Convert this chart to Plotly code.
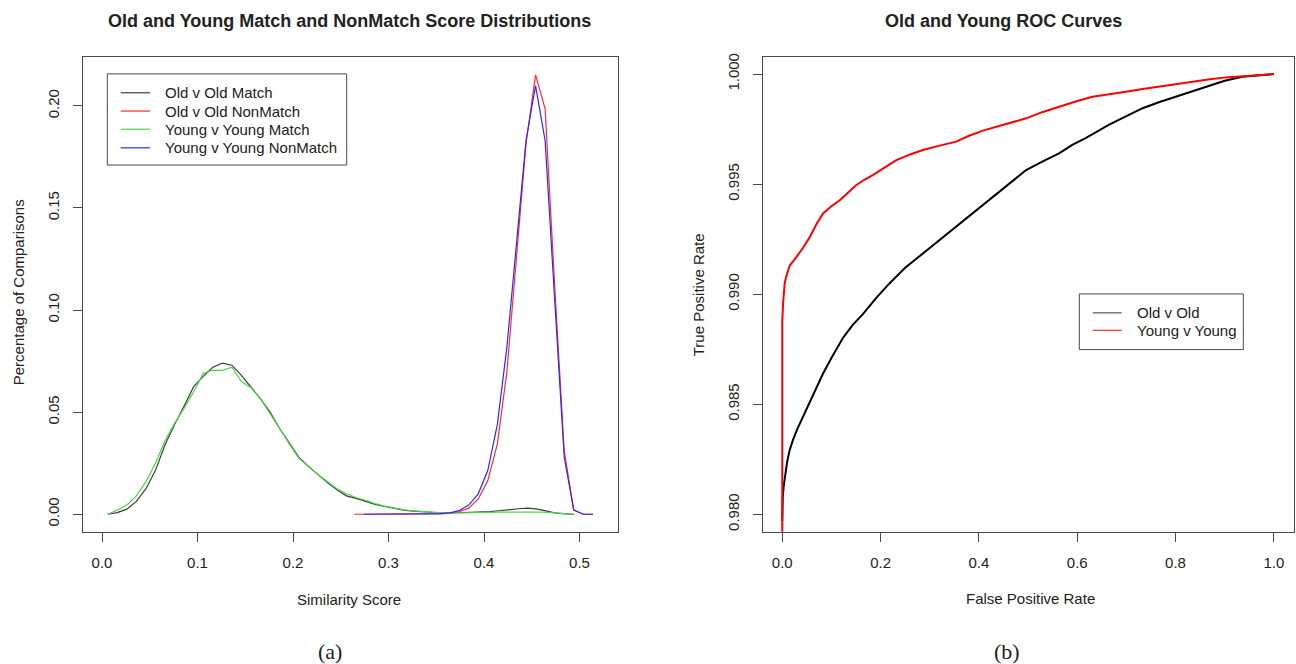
import plotly.graph_objects as go

# ---------------- data: score distributions (panel a) ----------------
match_x = [0.006, 0.016, 0.026, 0.036, 0.046, 0.056, 0.066, 0.076, 0.086, 0.096,
           0.106, 0.116, 0.126, 0.136, 0.146, 0.156, 0.166, 0.176, 0.186, 0.196,
           0.206, 0.216, 0.226, 0.236, 0.246, 0.256, 0.266, 0.276, 0.286, 0.296,
           0.306, 0.316, 0.326, 0.336, 0.346, 0.356, 0.366, 0.376, 0.386, 0.396,
           0.406, 0.416, 0.426, 0.436, 0.446, 0.456, 0.466, 0.476, 0.486, 0.494]
old_match = [0.0000, 0.0008, 0.0025, 0.0063, 0.0125, 0.0215, 0.0340, 0.0440, 0.0530, 0.0625,
             0.0675, 0.0720, 0.0740, 0.0730, 0.0680, 0.0625, 0.0565, 0.0500, 0.0420, 0.0350,
             0.0280, 0.0235, 0.0195, 0.0155, 0.0120, 0.0090, 0.0078, 0.0062, 0.0048, 0.0038,
             0.0028, 0.0020, 0.0015, 0.0011, 0.0008, 0.0006, 0.0006, 0.0007, 0.0008, 0.0010,
             0.0013, 0.0017, 0.0023, 0.0027, 0.0030, 0.0025, 0.0015, 0.0005, 0.0002, 0.0000]
young_match = [0.0000, 0.0020, 0.0045, 0.0090, 0.0160, 0.0250, 0.0360, 0.0445, 0.0520, 0.0600,
               0.0690, 0.0705, 0.0705, 0.0720, 0.0650, 0.0620, 0.0565, 0.0495, 0.0420, 0.0345,
               0.0275, 0.0235, 0.0195, 0.0160, 0.0125, 0.0100, 0.0082, 0.0068, 0.0052, 0.0040,
               0.0030, 0.0022, 0.0016, 0.0012, 0.0009, 0.0007, 0.0006, 0.0006, 0.0007, 0.0008,
               0.0009, 0.0010, 0.0011, 0.0012, 0.0012, 0.0011, 0.0009, 0.0006, 0.0003, 0.0000]

nonmatch_x = [0.264, 0.274, 0.284, 0.294, 0.304, 0.314, 0.324, 0.334, 0.344, 0.354,
              0.364, 0.374, 0.384, 0.394, 0.404, 0.414, 0.424, 0.434, 0.444, 0.454,
              0.464, 0.474, 0.484, 0.494, 0.504, 0.514]
old_nonmatch = [0.0, 0.0, 0.0, 0.0, 0.0, 0.0, 0.0, 0.0, 0.0001, 0.0002,
                0.0005, 0.0012, 0.0030, 0.0075, 0.0165, 0.0345, 0.0700, 0.1250, 0.1815, 0.2152,
                0.1985, 0.1120, 0.0310, 0.0020, 0.0, 0.0]
young_nonmatch = [None, 0.0, 0.0, 0.0, 0.0, 0.0, 0.0, 0.0, 0.0001, 0.0003,
                  0.0007, 0.0018, 0.0045, 0.0100, 0.0215, 0.0440, 0.0820, 0.1320, 0.1830, 0.2099,
                  0.1830, 0.1050, 0.0280, 0.0020, 0.0, 0.0]

dist_labels = ["Old v Old Match", "Old v Old NonMatch",
               "Young v Young Match", "Young v Young NonMatch"]

# ---------------- data: ROC curves (panel b) ----------------
old_fpr = [0.0, 0.0, 0.001, 0.003, 0.006, 0.010, 0.015, 0.022, 0.031, 0.042,
           0.055, 0.068, 0.083, 0.100, 0.123, 0.143, 0.164, 0.190, 0.218, 0.250,
           0.286, 0.320, 0.354, 0.390, 0.421, 0.460, 0.496, 0.530, 0.563, 0.590,
           0.618, 0.665, 0.700, 0.733, 0.766, 0.800, 0.834, 0.868, 0.900, 0.936,
           0.970, 1.0]
old_tpr = [0.9797, 0.9800, 0.9808, 0.9813, 0.9818, 0.9824, 0.98291, 0.9834, 0.9839, 0.98443,
           0.9851, 0.98575, 0.98640, 0.9871, 0.98800, 0.9886, 0.98910, 0.9898, 0.99049, 0.9912,
           0.99185, 0.99248, 0.99310, 0.99373, 0.99430, 0.99500, 0.99564, 0.99603, 0.99640, 0.99678,
           0.99710, 0.99770, 0.99810, 0.99845, 0.99872, 0.99897, 0.99925, 0.99950, 0.99970, 0.99988,
           0.99996, 1.0]
young_fpr = [0.0, 0.0, 0.002, 0.005, 0.008, 0.015, 0.029, 0.042, 0.056, 0.070,
             0.083, 0.100, 0.117, 0.133, 0.150, 0.167, 0.184, 0.208, 0.232, 0.260,
             0.286, 0.320, 0.354, 0.380, 0.408, 0.450, 0.496, 0.530, 0.563, 0.600,
             0.631, 0.665, 0.699, 0.733, 0.766, 0.800, 0.834, 0.870, 0.902, 0.950,
             1.0]
young_tpr = [0.975, 0.9888, 0.9897, 0.9905, 0.9908, 0.9913, 0.9917, 0.9921, 0.9926, 0.9932,
             0.99367, 0.9940, 0.99427, 0.9946, 0.99495, 0.9952, 0.99541, 0.99575, 0.99609, 0.99635,
             0.99655, 0.99675, 0.99693, 0.9972, 0.99743, 0.99770, 0.99799, 0.99828, 0.99852, 0.99878,
             0.99897, 0.99910, 0.99920, 0.99932, 0.99943, 0.99955, 0.99965, 0.99976, 0.99985, 0.99993,
             1.0]
roc_labels = ["Old v Old", "Young v Young"]

# ---------------- figure ----------------
W, H = 1296, 664
FONT = "Liberation Sans, Arial, sans-serif"
TXT = "#222222"
BOX = "#4a4a4a"

def px(x):
    return x / W

def py(y):
    return 1 - y / H

dist_colors = ["#3c3c3c", "#ff2a2a", "#4cd64c", "#2a2aff"]
roc_colors = ["#000000", "#ff0000"]

fig = go.Figure()
fig.add_trace(go.Scatter(x=match_x, y=old_match, mode="lines", name=dist_labels[0],
                         line=dict(color=dist_colors[0], width=1.2), xaxis="x", yaxis="y", showlegend=False))
fig.add_trace(go.Scatter(x=nonmatch_x, y=old_nonmatch, mode="lines", name=dist_labels[1],
                         line=dict(color=dist_colors[1], width=1.2), xaxis="x", yaxis="y", showlegend=False))
fig.add_trace(go.Scatter(x=match_x, y=young_match, mode="lines", name=dist_labels[2],
                         line=dict(color=dist_colors[2], width=1.2), xaxis="x", yaxis="y", showlegend=False))
fig.add_trace(go.Scatter(x=nonmatch_x, y=young_nonmatch, mode="lines", name=dist_labels[3],
                         line=dict(color=dist_colors[3], width=1.2), xaxis="x", yaxis="y", showlegend=False))

fig.add_trace(go.Scatter(x=old_fpr, y=old_tpr, mode="lines", name=roc_labels[0],
                         line=dict(color=roc_colors[0], width=2), xaxis="x2", yaxis="y2", showlegend=False))
fig.add_trace(go.Scatter(x=young_fpr, y=young_tpr, mode="lines", name=roc_labels[1],
                         line=dict(color=roc_colors[1], width=2), xaxis="x2", yaxis="y2", showlegend=False))

axis_common = dict(showline=True, mirror=True, linecolor=BOX, linewidth=1,
                   ticks="outside", ticklen=9, tickcolor=BOX, tickwidth=1,
                   showgrid=False, zeroline=False,
                   tickfont=dict(family=FONT, size=15, color=TXT))

ydom = [py(531), py(53)]
fig.update_layout(
    width=W, height=H,
    margin=dict(l=0, r=0, t=0, b=0),
    paper_bgcolor="white", plot_bgcolor="white",
    showlegend=False,
    xaxis=dict(domain=[px(83), px(617.7)], range=[-0.0199, 0.540],
               tickvals=[0, 0.1, 0.2, 0.3, 0.4, 0.5], tickformat=".1f",
               ticklabelstandoff=8, anchor="y", **axis_common),
    yaxis=dict(domain=ydom, range=[-0.0086, 0.2241],
               tickvals=[0, 0.05, 0.10, 0.15, 0.20], tickformat=".2f",
               tickangle=-90, ticklabelstandoff=8, anchor="x", **axis_common),
    xaxis2=dict(domain=[px(762.6), px(1293.5)], range=[-0.04, 1.04],
                tickvals=[0, 0.2, 0.4, 0.6, 0.8, 1.0], tickformat=".1f",
                ticklabelstandoff=8, anchor="y2", **axis_common),
    yaxis2=dict(domain=ydom, range=[0.97921, 1.00079],
                tickvals=[0.980, 0.985, 0.990, 0.995, 1.000], tickformat=".3f",
                tickangle=-90, ticklabelstandoff=8, anchor="x2", **axis_common),
)

ann = []
def text(x, y, s, size=15, bold=False, angle=0, family=FONT, xanchor="center"):
    ann.append(dict(x=px(x), y=py(y), xref="paper", yref="paper", text=(f"<b>{s}</b>" if bold else s),
                    showarrow=False, xanchor=xanchor, yanchor="middle", textangle=angle,
                    font=dict(family=family, size=size, color=TXT)))

# titles
text(349.5, 17, "Old and Young Match and NonMatch Score Distributions", size=18, bold=True)
text(1003, 17, "Old and Young ROC Curves", size=18, bold=True)
# axis titles
text(349, 599, "Similarity Score")
text(1030, 598, "False Positive Rate")
text(18, 290, "Percentage of Comparisons", angle=-90)
text(698, 292, "True Positive Rate", angle=-90)
# captions
text(330, 651, "(a)", size=22, family="Liberation Serif, Times New Roman, serif")
text(1007, 651, "(b)", size=22, family="Liberation Serif, Times New Roman, serif")

shapes = []
# legend (a)
shapes.append(dict(type="rect", xref="paper", yref="paper", x0=px(107.3), x1=px(346.7),
                   y0=py(162), y1=py(70.3), line=dict(color=BOX, width=1), fillcolor="white"))
rows_a = [89.3, 107.7, 126.0, 144.7]
for lab, col, yy in zip(dist_labels, dist_colors, rows_a):
    shapes.append(dict(type="line", xref="paper", yref="paper", x0=px(120.7), x1=px(150),
                       y0=py(yy), y1=py(yy), line=dict(color=col, width=1.2)))
    text(163, yy, lab, xanchor="left")
# legend (b)
shapes.append(dict(type="rect", xref="paper", yref="paper", x0=px(1079.3), x1=px(1243.3),
                   y0=py(347.7), y1=py(291.7), line=dict(color=BOX, width=1), fillcolor="white"))
rows_b = [310.7, 328.3]
for lab, col, yy in zip(roc_labels, ["#555555", "#ff3030"], rows_b):
    shapes.append(dict(type="line", xref="paper", yref="paper", x0=px(1092.7), x1=px(1121.7),
                       y0=py(yy), y1=py(yy), line=dict(color=col, width=1.2)))
    text(1135, yy, lab, xanchor="left")

fig.update_layout(annotations=ann, shapes=shapes)
fig.write_html("out.html", config={"displayModeBar": False},
               post_script="document.body.style.margin='0';document.body.style.padding='0';")
